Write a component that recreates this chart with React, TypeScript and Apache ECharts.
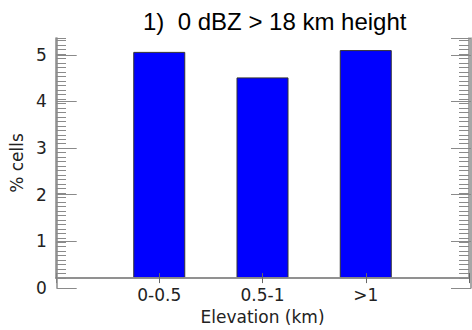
import React, { useEffect, useRef } from "react";
import * as echarts from "echarts";

const titleText = "1)  0 dBZ > 18 km height";
const categories = ["0-0.5", "0.5-1", ">1"];
const cellPercent = [5.05, 4.48, 5.09];
const yTicks = [0, 1, 2, 3, 4, 5];
const yMax = 5.36;
const xName = "Elevation (km)";
const yName = "% cells";

export default function App() {
  const ref = useRef<HTMLDivElement>(null);
  useEffect(() => {
    if (!ref.current) return;
    const chart = echarts.init(ref.current, null, { renderer: "svg" });
    const paddedCats = ["", ...categories, ""];
    const paddedVals: (number | null)[] = [null, ...cellPercent, null];
    const axisGray = "#8a8a8a";
    const font = "DejaVu Sans";
    const gridBox = { left: 56, right: 1, top: 38, bottom: 42 };
    const baseX = {
      type: "category" as const,
      data: paddedCats,
      boundaryGap: false,
      gridIndex: 0,
      axisLine: { show: true, lineStyle: { color: axisGray, width: 1.5 } },
      axisTick: { show: true, inside: true, length: 5, lineStyle: { color: "#666", width: 1 } },
      splitLine: { show: false },
      z: 5,
    };
    const yMain = (pos: "left" | "right", labels: boolean) => ({
      type: "value" as const,
      gridIndex: 1,
      position: pos,
      min: yTicks[0],
      max: yMax,
      interval: 1,
      axisLine: { show: true, lineStyle: { color: axisGray, width: 1.5 } },
      axisTick: { show: true, inside: true, length: 20, lineStyle: { color: axisGray, width: 1 } },
      splitLine: { show: false },
      axisLabel: {
        show: labels,
        showMaxLabel: false,
        color: "#222",
        fontFamily: font,
        fontSize: 17,
        margin: 10,
        formatter: (v: number) => (yTicks.includes(v) ? String(v) : ""),
      },
      name: labels ? yName : "",
      nameLocation: "middle" as const,
      nameGap: 27,
      nameTextStyle: { color: "#222", fontFamily: font, fontSize: 17 },
      z: 6,
    });
    const yMinor = (pos: "left" | "right") => ({
      type: "value" as const,
      gridIndex: 0,
      position: pos,
      min: 0,
      max: yMax,
      interval: 0.1,
      axisLine: { show: true, lineStyle: { color: axisGray, width: 1.5 } },
      axisTick: { show: true, inside: true, length: 10, lineStyle: { color: axisGray, width: 1 } },
      splitLine: { show: false },
      axisLabel: { show: false },
      z: 5,
    });
    chart.setOption({
      animation: false,
      title: {
        text: titleText,
        left: 138,
        top: 4,
        textStyle: { fontFamily: "Liberation Sans", fontSize: 24, fontWeight: "normal", color: "#000" },
      },
      grid: [{ ...gridBox }, { ...gridBox }],
      xAxis: [
        {
          ...baseX,
          position: "bottom",
          axisLabel: { show: true, color: "#222", fontFamily: font, fontSize: 17, margin: 8, interval: 0 },
          name: xName,
          nameLocation: "middle",
          nameGap: 24,
          nameTextStyle: { color: "#222", fontFamily: font, fontSize: 17 },
        },
        { ...baseX, position: "top", axisLabel: { show: false } },
        { type: "value", gridIndex: 1, min: 0, max: 4, show: false },
      ],
      yAxis: [yMinor("left"), yMinor("right"), yMain("left", true), yMain("right", false)],
      series: [
        {
          type: "bar",
          xAxisIndex: 0,
          yAxisIndex: 0,
          data: paddedVals,
          barWidth: 52,
          itemStyle: { color: "#0000ff", borderColor: "#333", borderWidth: 1 },
          z: 2,
        },
      ],
    });
    return () => chart.dispose();
  }, []);
  return (
    <div
      ref={ref}
      style={{ position: "fixed", left: 0, top: 0, width: 472, height: 330, background: "#fff" }}
    />
  );
}
